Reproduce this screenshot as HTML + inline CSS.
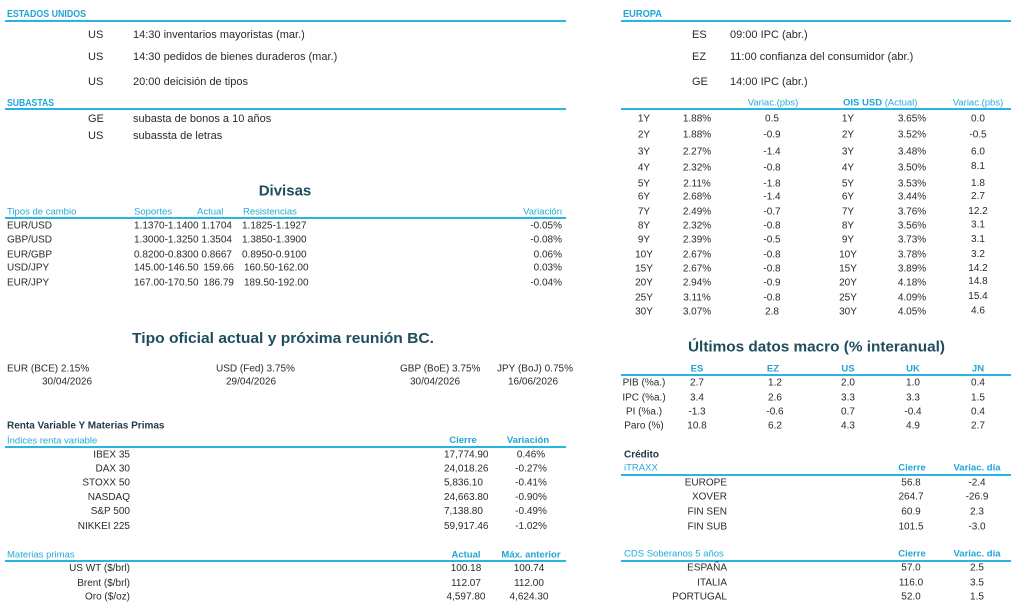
<!DOCTYPE html>
<html>
<head>
<meta charset="utf-8">
<style>
  html,body{margin:0;padding:0;background:#fff;}
  body{width:1024px;height:610px;overflow:hidden;}
  svg{display:block;}
  text{font-family:"Liberation Sans",Arial,sans-serif;}
  .t{font-size:10px;fill:#2a2a2a;}
  .e{font-size:11px;fill:#2a2a2a;}
  .c{font-size:9.5px;fill:#22abd9;}
  .cb{font-size:9.5px;fill:#1ea6d6;font-weight:bold;}
  .sh{font-size:10.5px;fill:#1ea6d6;font-weight:bold;}
  .h{font-size:15px;fill:#1e4d5d;font-weight:bold;}
  .d{font-size:10px;fill:#1e3a45;font-weight:bold;}
  .m{text-anchor:middle;}
  .r{text-anchor:end;}
  line{stroke:#29b5df;stroke-width:2;}
</style>
</head>
<body>
<svg width="1024" height="610" viewBox="0 0 1024 610" xmlns="http://www.w3.org/2000/svg">
<!-- ============ LEFT ============ -->
<text class="sh" x="7" y="17" textLength="79" lengthAdjust="spacingAndGlyphs">ESTADOS UNIDOS</text>
<line x1="5" y1="21" x2="566" y2="21"/>
<text class="e" x="88" y="38">US</text><text class="e" x="133" y="38">14:30 inventarios mayoristas (mar.)</text>
<text class="e" x="88" y="60">US</text><text class="e" x="133" y="60">14:30 pedidos de bienes duraderos (mar.)</text>
<text class="e" x="88" y="85">US</text><text class="e" x="133" y="85">20:00 deicisión de tipos</text>

<text class="sh" x="7" y="106" textLength="47" lengthAdjust="spacingAndGlyphs">SUBASTAS</text>
<line x1="5" y1="109" x2="566" y2="109"/>
<text class="e" x="88" y="122">GE</text><text class="e" x="133" y="122">subasta de bonos a 10 años</text>
<text class="e" x="88" y="139">US</text><text class="e" x="133" y="139">subassta de letras</text>

<!-- Divisas -->
<text class="h m" x="285" y="195.5">Divisas</text>
<text class="c" x="7" y="214.5">Tipos de cambio</text>
<text class="c" x="134" y="214.5">Soportes</text>
<text class="c" x="197" y="214.5">Actual</text>
<text class="c" x="243" y="214.5">Resistencias</text>
<text class="c r" x="562" y="214.5">Variación</text>
<line x1="5" y1="218" x2="566" y2="218"/>

<text class="t" x="7" y="228.5">EUR/USD</text><text class="t" x="134" y="228.5">1.1370-1.1400</text><text class="t r" x="232" y="228.5">1.1704</text><text class="t" x="242" y="228.5">1.1825-1.1927</text><text class="t r" x="562" y="228.5">-0.05%</text>
<text class="t" x="7" y="242.5">GBP/USD</text><text class="t" x="134" y="242.5">1.3000-1.3250</text><text class="t r" x="232" y="242.5">1.3504</text><text class="t" x="242" y="242.5">1.3850-1.3900</text><text class="t r" x="562" y="242.5">-0.08%</text>
<text class="t" x="7" y="257.5">EUR/GBP</text><text class="t" x="134" y="257.5">0.8200-0.8300</text><text class="t r" x="232" y="257.5">0.8667</text><text class="t" x="242" y="257.5">0.8950-0.9100</text><text class="t r" x="562" y="257.5">0.06%</text>
<text class="t" x="7" y="270.5">USD/JPY</text><text class="t" x="134" y="270.5">145.00-146.50</text><text class="t r" x="234" y="270.5">159.66</text><text class="t" x="244" y="270.5">160.50-162.00</text><text class="t r" x="562" y="270.5">0.03%</text>
<text class="t" x="7" y="285.5">EUR/JPY</text><text class="t" x="134" y="285.5">167.00-170.50</text><text class="t r" x="234" y="285.5">186.79</text><text class="t" x="244" y="285.5">189.50-192.00</text><text class="t r" x="562" y="285.5">-0.04%</text>

<!-- Tipo oficial -->
<text class="h m" x="283" y="343" textLength="302" lengthAdjust="spacingAndGlyphs">Tipo oficial actual y próxima reunión BC.</text>
<text class="t" x="7" y="371.5">EUR (BCE) 2.15%</text>
<text class="t" x="216" y="371.5">USD (Fed) 3.75%</text>
<text class="t" x="400" y="371.5">GBP (BoE) 3.75%</text>
<text class="t" x="497" y="371.5">JPY (BoJ) 0.75%</text>
<text class="t" x="42" y="384.5">30/04/2026</text>
<text class="t" x="226" y="384.5">29/04/2026</text>
<text class="t" x="410" y="384.5">30/04/2026</text>
<text class="t" x="508" y="384.5">16/06/2026</text>

<!-- Renta variable -->
<text class="d" x="7" y="428.5">Renta Variable Y Materias Primas</text>
<text class="c" x="7" y="443.5">Índices renta variable</text>
<text class="cb m" x="463" y="443">Cierre</text>
<text class="cb m" x="528" y="443">Variación</text>
<line x1="5" y1="447" x2="566" y2="447"/>

<text class="t r" x="130" y="457.5">IBEX 35</text><text class="t" x="444" y="457.5">17,774.90</text><text class="t m" x="531" y="457.5">0.46%</text>
<text class="t r" x="130" y="471.5">DAX 30</text><text class="t" x="444" y="471.5">24,018.26</text><text class="t m" x="531" y="471.5">-0.27%</text>
<text class="t r" x="130" y="485.5">STOXX 50</text><text class="t" x="444" y="485.5">5,836.10</text><text class="t m" x="531" y="485.5">-0.41%</text>
<text class="t r" x="130" y="500">NASDAQ</text><text class="t" x="444" y="500">24,663.80</text><text class="t m" x="531" y="500">-0.90%</text>
<text class="t r" x="130" y="514">S&amp;P 500</text><text class="t" x="444" y="514">7,138.80</text><text class="t m" x="531" y="514">-0.49%</text>
<text class="t r" x="130" y="529">NIKKEI 225</text><text class="t" x="444" y="529">59,917.46</text><text class="t m" x="531" y="529">-1.02%</text>

<text class="c" x="7" y="557.5">Materias primas</text>
<text class="cb m" x="466" y="557.5">Actual</text>
<text class="cb m" x="531" y="557.5">Máx. anterior</text>
<line x1="5" y1="561" x2="566" y2="561"/>
<text class="t r" x="130" y="571">US WT ($/brl)</text><text class="t m" x="466" y="571">100.18</text><text class="t m" x="529" y="571">100.74</text>
<text class="t r" x="130" y="586">Brent ($/brl)</text><text class="t m" x="466" y="586">112.07</text><text class="t m" x="529" y="586">112.00</text>
<text class="t r" x="130" y="599.5">Oro ($/oz)</text><text class="t m" x="466" y="599.5">4,597.80</text><text class="t m" x="529" y="599.5">4,624.30</text>

<!-- ============ RIGHT ============ -->
<text class="sh" x="623" y="17" textLength="39" lengthAdjust="spacingAndGlyphs">EUROPA</text>
<line x1="621" y1="21" x2="1011" y2="21"/>
<text class="e" x="692" y="38">ES</text><text class="e" x="730" y="38">09:00 IPC (abr.)</text>
<text class="e" x="692" y="60">EZ</text><text class="e" x="730" y="60">11:00 confianza del consumidor (abr.)</text>
<text class="e" x="692" y="85">GE</text><text class="e" x="730" y="85">14:00 IPC (abr.)</text>

<text class="c m" x="773" y="105.5">Variac.(pbs)</text>
<text class="c" x="843" y="105.5"><tspan font-weight="bold" fill="#1ea6d6">OIS USD</tspan> (Actual)</text>
<text class="c m" x="978" y="105.5">Variac.(pbs)</text>
<line x1="621" y1="109" x2="1011" y2="109"/>

<g class="t">
<text class="t m" x="644" y="121.5">1Y</text><text class="t m" x="697" y="121.5">1.88%</text><text class="t m" x="772" y="121.5">0.5</text><text class="t m" x="848" y="121.5">1Y</text><text class="t m" x="912" y="121.5">3.65%</text><text class="t m" x="978" y="121.5">0.0</text>
<text class="t m" x="644" y="137.5">2Y</text><text class="t m" x="697" y="137.5">1.88%</text><text class="t m" x="772" y="137.5">-0.9</text><text class="t m" x="848" y="137.5">2Y</text><text class="t m" x="912" y="137.5">3.52%</text><text class="t m" x="978" y="137.5">-0.5</text>
<text class="t m" x="644" y="154.5">3Y</text><text class="t m" x="697" y="154.5">2.27%</text><text class="t m" x="772" y="154.5">-1.4</text><text class="t m" x="848" y="154.5">3Y</text><text class="t m" x="912" y="154.5">3.48%</text><text class="t m" x="978" y="154.5">6.0</text>
<text class="t m" x="644" y="170.5">4Y</text><text class="t m" x="697" y="170.5">2.32%</text><text class="t m" x="772" y="170.5">-0.8</text><text class="t m" x="848" y="170.5">4Y</text><text class="t m" x="912" y="170.5">3.50%</text><text class="t m" x="978" y="169">8.1</text>
<text class="t m" x="644" y="186.5">5Y</text><text class="t m" x="697" y="186.5">2.11%</text><text class="t m" x="772" y="186.5">-1.8</text><text class="t m" x="848" y="186.5">5Y</text><text class="t m" x="912" y="186.5">3.53%</text><text class="t m" x="978" y="186">1.8</text>
<text class="t m" x="644" y="199.5">6Y</text><text class="t m" x="697" y="199.5">2.68%</text><text class="t m" x="772" y="199.5">-1.4</text><text class="t m" x="848" y="199.5">6Y</text><text class="t m" x="912" y="199.5">3.44%</text><text class="t m" x="978" y="199">2.7</text>
<text class="t m" x="644" y="214.5">7Y</text><text class="t m" x="697" y="214.5">2.49%</text><text class="t m" x="772" y="214.5">-0.7</text><text class="t m" x="848" y="214.5">7Y</text><text class="t m" x="912" y="214.5">3.76%</text><text class="t m" x="978" y="214">12.2</text>
<text class="t m" x="644" y="228.5">8Y</text><text class="t m" x="697" y="228.5">2.32%</text><text class="t m" x="772" y="228.5">-0.8</text><text class="t m" x="848" y="228.5">8Y</text><text class="t m" x="912" y="228.5">3.56%</text><text class="t m" x="978" y="227.5">3.1</text>
<text class="t m" x="644" y="242.5">9Y</text><text class="t m" x="697" y="242.5">2.39%</text><text class="t m" x="772" y="242.5">-0.5</text><text class="t m" x="848" y="242.5">9Y</text><text class="t m" x="912" y="242.5">3.73%</text><text class="t m" x="978" y="242">3.1</text>
<text class="t m" x="644" y="257.5">10Y</text><text class="t m" x="697" y="257.5">2.67%</text><text class="t m" x="772" y="257.5">-0.8</text><text class="t m" x="848" y="257.5">10Y</text><text class="t m" x="912" y="257.5">3.78%</text><text class="t m" x="978" y="257">3.2</text>
<text class="t m" x="644" y="271.5">15Y</text><text class="t m" x="697" y="271.5">2.67%</text><text class="t m" x="772" y="271.5">-0.8</text><text class="t m" x="848" y="271.5">15Y</text><text class="t m" x="912" y="271.5">3.89%</text><text class="t m" x="978" y="271">14.2</text>
<text class="t m" x="644" y="285.5">20Y</text><text class="t m" x="697" y="285.5">2.94%</text><text class="t m" x="772" y="285.5">-0.9</text><text class="t m" x="848" y="285.5">20Y</text><text class="t m" x="912" y="285.5">4.18%</text><text class="t m" x="978" y="284">14.8</text>
<text class="t m" x="644" y="300.5">25Y</text><text class="t m" x="697" y="300.5">3.11%</text><text class="t m" x="772" y="300.5">-0.8</text><text class="t m" x="848" y="300.5">25Y</text><text class="t m" x="912" y="300.5">4.09%</text><text class="t m" x="978" y="299">15.4</text>
<text class="t m" x="644" y="314.5">30Y</text><text class="t m" x="697" y="314.5">3.07%</text><text class="t m" x="772" y="314.5">2.8</text><text class="t m" x="848" y="314.5">30Y</text><text class="t m" x="912" y="314.5">4.05%</text><text class="t m" x="978" y="313.5">4.6</text>
</g>

<!-- Macro -->
<text class="h m" x="816.5" y="351.5" textLength="257" lengthAdjust="spacingAndGlyphs">Últimos datos macro (% interanual)</text>
<text class="cb m" x="697" y="371.5">ES</text>
<text class="cb m" x="773" y="371.5">EZ</text>
<text class="cb m" x="848" y="371.5">US</text>
<text class="cb m" x="913" y="371.5">UK</text>
<text class="cb m" x="978" y="371.5">JN</text>
<line x1="621" y1="375" x2="1011" y2="375"/>
<text class="t m" x="644" y="385.5">PIB (%a.)</text><text class="t m" x="697" y="385.5">2.7</text><text class="t m" x="775" y="385.5">1.2</text><text class="t m" x="848" y="385.5">2.0</text><text class="t m" x="913" y="385.5">1.0</text><text class="t m" x="978" y="385.5">0.4</text>
<text class="t m" x="644" y="400.5">IPC (%a.)</text><text class="t m" x="697" y="400.5">3.4</text><text class="t m" x="775" y="400.5">2.6</text><text class="t m" x="848" y="400.5">3.3</text><text class="t m" x="913" y="400.5">3.3</text><text class="t m" x="978" y="400.5">1.5</text>
<text class="t m" x="644" y="414.5">PI (%a.)</text><text class="t m" x="697" y="414.5">-1.3</text><text class="t m" x="775" y="414.5">-0.6</text><text class="t m" x="848" y="414.5">0.7</text><text class="t m" x="913" y="414.5">-0.4</text><text class="t m" x="978" y="414.5">0.4</text>
<text class="t m" x="644" y="428.5">Paro (%)</text><text class="t m" x="697" y="428.5">10.8</text><text class="t m" x="775" y="428.5">6.2</text><text class="t m" x="848" y="428.5">4.3</text><text class="t m" x="913" y="428.5">4.9</text><text class="t m" x="978" y="428.5">2.7</text>

<!-- Credito -->
<text class="d" x="624" y="457.5">Crédito</text>
<text class="c" x="624" y="470.5">iTRAXX</text>
<text class="cb m" x="912" y="470.5">Cierre</text>
<text class="cb m" x="977" y="470.5">Variac. día</text>
<line x1="621" y1="475" x2="1011" y2="475"/>
<text class="t r" x="727" y="485.5">EUROPE</text><text class="t m" x="911" y="485.5">56.8</text><text class="t m" x="977" y="485.5">-2.4</text>
<text class="t r" x="727" y="499.5">XOVER</text><text class="t m" x="911" y="499.5">264.7</text><text class="t m" x="977" y="499.5">-26.9</text>
<text class="t r" x="727" y="514.5">FIN SEN</text><text class="t m" x="911" y="514.5">60.9</text><text class="t m" x="977" y="514.5">2.3</text>
<text class="t r" x="727" y="529.5">FIN SUB</text><text class="t m" x="911" y="529.5">101.5</text><text class="t m" x="977" y="529.5">-3.0</text>

<text class="c" x="624" y="556.5">CDS Soberanos 5 años</text>
<text class="cb m" x="912" y="556.5">Cierre</text>
<text class="cb m" x="977" y="556.5">Variac. día</text>
<line x1="621" y1="561" x2="1011" y2="561"/>
<text class="t r" x="727" y="570.5">ESPAÑA</text><text class="t m" x="911" y="570.5">57.0</text><text class="t m" x="977" y="570.5">2.5</text>
<text class="t r" x="727" y="585.5">ITALIA</text><text class="t m" x="911" y="585.5">116.0</text><text class="t m" x="977" y="585.5">3.5</text>
<text class="t r" x="727" y="599.5">PORTUGAL</text><text class="t m" x="911" y="599.5">52.0</text><text class="t m" x="977" y="599.5">1.5</text>
</svg>
</body>
</html>
